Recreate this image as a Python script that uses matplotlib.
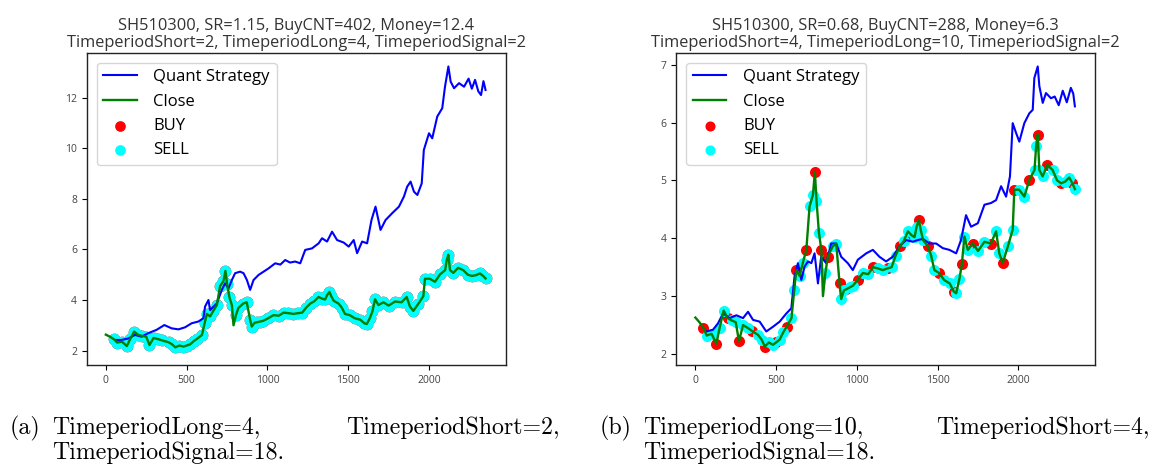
import numpy as np
import matplotlib
matplotlib.use("Agg")
import matplotlib.pyplot as plt

plt.rcParams['font.family'] = ['Open Sans', 'DejaVu Sans']

# close price of SH510300 (same in both panels)
close_x = [0, 25, 50, 70, 100, 130, 150, 175, 200, 225, 250, 270, 295, 325, 350,
           388, 410, 430, 455, 480, 500, 522, 545, 565, 595, 612, 625, 645, 665,
           687, 707, 728, 740, 750, 765, 780, 790, 805, 820, 850, 872, 893, 903,
           920, 935, 955, 975, 1005, 1037, 1070, 1100, 1130, 1160, 1190, 1215,
           1240, 1265, 1290, 1316, 1340, 1357, 1370, 1384, 1395, 1410, 1440, 1460,
           1480, 1510, 1540, 1575, 1600, 1615, 1635, 1650, 1666, 1687, 1718, 1750,
           1790, 1830, 1862, 1882, 1903, 1935, 1965, 1975, 2005, 2037, 2068, 2100,
           2110, 2120, 2130, 2150, 2180, 2212, 2240, 2265, 2290, 2315, 2335, 2350]
close_y = [2.63, 2.55, 2.45, 2.32, 2.35, 2.18, 2.45, 2.75, 2.62, 2.58, 2.55, 2.22,
           2.50, 2.45, 2.40, 2.33, 2.25, 2.13, 2.20, 2.16, 2.20, 2.25, 2.38, 2.47,
           2.62, 3.10, 3.45, 3.35, 3.57, 3.80, 4.55, 4.75, 5.15, 4.65, 4.10, 3.80,
           3.00, 3.40, 3.68, 3.86, 3.91, 3.22, 2.95, 3.10, 3.12, 3.15, 3.18, 3.28,
           3.40, 3.38, 3.50, 3.48, 3.45, 3.48, 3.50, 3.70, 3.86, 3.95, 4.12, 4.05,
           4.02, 4.20, 4.32, 4.15, 3.97, 3.86, 3.70, 3.45, 3.40, 3.28, 3.22, 3.08,
           3.05, 3.30, 3.55, 4.03, 3.80, 3.91, 3.78, 3.94, 3.91, 4.12, 3.74, 3.57,
           3.86, 4.15, 4.84, 4.84, 4.72, 5.01, 5.18, 5.59, 5.79, 5.18, 5.07, 5.27,
           5.18, 5.00, 4.95, 4.98, 5.05, 4.95, 4.85]

# quant strategy, panel (a)
quant_a_x = [56, 97, 139, 180, 221, 263, 314, 362, 407, 449, 490, 531, 573, 604,
             614, 635, 645, 656, 687, 718, 738, 759, 780, 800, 831, 852, 873, 893,
             914, 945, 976, 1007, 1048, 1080, 1110, 1140, 1172, 1203, 1234, 1276,
             1317, 1338, 1369, 1400, 1431, 1472, 1503, 1534, 1555, 1586, 1617, 1644,
             1669, 1700, 1731, 1772, 1814, 1845, 1865, 1886, 1907, 1928, 1955, 1968,
             2000, 2020, 2051, 2082, 2099, 2120, 2134, 2155, 2186, 2217, 2245, 2265,
             2285, 2305, 2322, 2337, 2350]
quant_a_y = [2.42, 2.42, 2.48, 2.62, 2.55, 2.69, 2.82, 3.01, 2.88, 2.84, 2.92, 3.08,
             3.15, 3.28, 3.74, 4.00, 3.60, 3.67, 3.87, 4.40, 4.66, 4.46, 4.79, 5.06,
             5.12, 5.06, 4.79, 4.40, 4.79, 4.99, 5.12, 5.25, 5.45, 5.40, 5.58, 5.48,
             5.52, 5.45, 5.98, 6.04, 6.24, 6.44, 6.31, 6.70, 6.37, 6.27, 6.11, 6.37,
             5.85, 6.31, 6.24, 7.16, 7.69, 6.77, 7.16, 7.43, 7.69, 8.09, 8.48, 8.68,
             8.28, 8.15, 8.61, 9.93, 10.59, 10.39, 11.25, 11.58, 12.43, 13.23, 12.63,
             12.37, 12.57, 12.43, 12.75, 12.35, 12.70, 12.25, 12.10, 12.65, 12.30]

# quant strategy, panel (b)
quant_b_x = [68, 109, 140, 171, 212, 254, 295, 326, 357, 398, 439, 480, 522, 563,
             594, 614, 635, 656, 676, 697, 718, 738, 759, 779, 810, 841, 872, 903,
             944, 975, 1006, 1058, 1099, 1140, 1181, 1222, 1264, 1305, 1346, 1377,
             1408, 1450, 1491, 1532, 1573, 1615, 1645, 1676, 1707, 1749, 1790, 1831,
             1862, 1893, 1924, 1948, 1965, 1986, 2006, 2037, 2068, 2089, 2099, 2120,
             2130, 2151, 2171, 2202, 2225, 2250, 2275, 2300, 2325, 2340, 2350]
quant_b_y = [2.39, 2.42, 2.53, 2.70, 2.62, 2.67, 2.62, 2.73, 2.59, 2.56, 2.39, 2.47,
             2.56, 2.70, 2.79, 3.34, 3.57, 3.28, 3.51, 3.60, 3.57, 3.74, 3.22, 3.68,
             3.57, 3.91, 3.91, 3.68, 3.57, 3.45, 3.63, 3.74, 3.80, 3.68, 3.60, 3.68,
             3.86, 3.97, 3.94, 3.97, 3.99, 3.91, 3.91, 3.83, 3.80, 3.74, 3.97, 4.40,
             4.20, 4.26, 4.58, 4.61, 4.66, 4.90, 4.72, 5.07, 5.99, 5.82, 5.67, 5.99,
             6.16, 6.22, 6.77, 6.97, 6.63, 6.34, 6.51, 6.42, 6.45, 6.30, 6.55, 6.35,
             6.60, 6.50, 6.28]

# trade points, as indices into close_x / close_y
skip = [36]  # the dip at day 790 carries no marker
buy_a = [i for i in range(2, len(close_x)) if i not in skip]
sell_a = [i for i in range(2, len(close_x)) if i not in skip]
buy_b = [i for i in range(2, len(close_x), 3) if i not in skip]
sell_b = [i for i in range(2, len(close_x)) if i not in skip and i not in buy_b]

titles = ["SH510300, SR=1.15, BuyCNT=402, Money=12.4\n"
          "TimeperiodShort=2, TimeperiodLong=4, TimeperiodSignal=2",
          "SH510300, SR=0.68, BuyCNT=288, Money=6.3\n"
          "TimeperiodShort=4, TimeperiodLong=10, TimeperiodSignal=2"]
captions = [("(a)", "TimeperiodLong=4,", "TimeperiodShort=2,", "TimeperiodSignal=18."),
            ("(b)", "TimeperiodLong=10,", "TimeperiodShort=4,", "TimeperiodSignal=18.")]

fig = plt.figure(figsize=(11.51, 4.65), dpi=100)
ax_a = fig.add_axes([0.0754, 0.215, 0.364, 0.672])
ax_b = fig.add_axes([0.5876, 0.215, 0.3638, 0.672])

cx = np.array(close_x)
cy = np.array(close_y)

panels = [(ax_a, quant_a_x, quant_a_y, buy_a, sell_a, (1.43, 13.78), 55),
          (ax_b, quant_b_x, quant_b_y, buy_b, sell_b, (1.81, 7.21), 48)]

for k, (ax, qx, qy, buy, sell, ylim, ms) in enumerate(panels):
    ax.plot(qx, qy, color='blue', lw=1.5, label='Quant Strategy')
    ax.plot(cx, cy, color='green', lw=1.7, label='Close')
    ax.scatter(cx[buy], cy[buy], s=ms, color='red', label='BUY')
    ax.scatter(cx[sell], cy[sell], s=ms, color='cyan', label='SELL')
    ax.set_xlim(-118, 2475)
    ax.set_ylim(*ylim)
    ax.set_xticks([0, 500, 1000, 1500, 2000])
    ax.tick_params(labelsize=7.5, labelcolor='#444444', length=3.5, width=0.8)
    for sp in ax.spines.values():
        sp.set_linewidth(1.0)
        sp.set_color('#222222')
    ax.set_title(titles[k], fontsize=11.8, color='#333333', linespacing=1.1, pad=4)
    ax.legend(loc='upper left', fontsize=12, frameon=True, borderpad=0.4,
              labelspacing=0.5, handletextpad=1.0, borderaxespad=0.6,
              markerscale=0.9)

# sub-figure captions
cap_x = [(10, 52, 560), (600, 643, 1150)]
for k, cap in enumerate(captions):
    x0, x1, x2 = cap_x[k]
    fig.text(x0 / 1151, 1 - 428 / 465, cap[0], family='cmr10', fontsize=17.2, va='center')
    fig.text(x1 / 1151, 1 - 428 / 465, cap[1], family='cmr10', fontsize=17.2, va='center')
    fig.text(x2 / 1151, 1 - 428 / 465, cap[2], family='cmr10', fontsize=17.2, va='center', ha='right')
    fig.text(x1 / 1151, 1 - 453 / 465, cap[3], family='cmr10', fontsize=17.2, va='center')

fig.savefig('out.png', dpi=100)
